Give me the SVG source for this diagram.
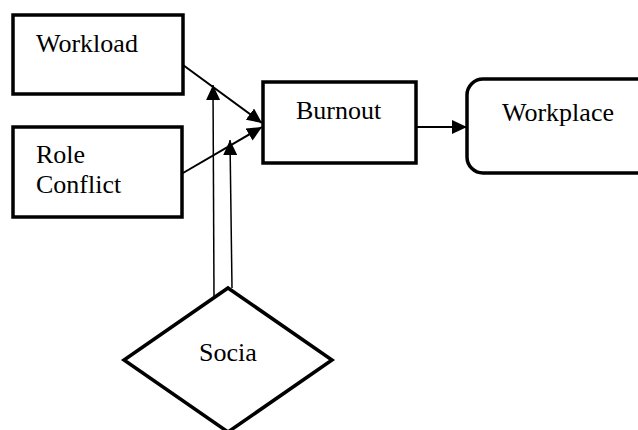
<svg xmlns="http://www.w3.org/2000/svg" width="638" height="430" viewBox="0 0 638 430">
  <style>
    .box { fill: #fff; stroke: #000; stroke-width: 3.5; }
    .lbl { font-family: "Liberation Serif", "Times New Roman", serif; font-size: 26px; fill: #000; }
    .edge { stroke: #000; stroke-width: 2; fill: none; marker-end: url(#head); }
    .thin { stroke-width: 1.5; }
  </style>
  <defs>
    <marker id="head" markerUnits="userSpaceOnUse" markerWidth="16" markerHeight="14" refX="15" refY="7" orient="auto">
      <path d="M0,0 L15,7 L0,14 Z" fill="#000"/>
    </marker>
  </defs>

  <g id="workload">
    <rect class="box" x="13" y="15" width="170" height="79"/>
    <text class="lbl" x="36" y="52">Workload</text>
  </g>

  <g id="role-conflict">
    <rect class="box" x="13" y="127" width="169" height="90"/>
    <text class="lbl" x="36" y="163">Role</text>
    <text class="lbl" x="36" y="193">Conflict</text>
  </g>

  <g id="burnout">
    <rect class="box" x="263" y="82" width="153" height="81"/>
    <text class="lbl" x="296" y="119">Burnout</text>
  </g>

  <g id="workplace">
    <rect class="box" x="467" y="79" width="190" height="94" rx="16" ry="16"/>
    <text class="lbl" x="502" y="121">Workplace</text>
  </g>

  <g id="social">
    <polygon class="box" points="228,288 332,360 228,432 124,360"/>
    <text class="lbl" x="199" y="361">Socia</text>
  </g>

  <g id="connectors">
    <line class="edge" x1="183" y1="65" x2="262" y2="123"/>
    <line class="edge" x1="183" y1="173" x2="262" y2="127"/>
    <line class="edge" x1="416" y1="127" x2="467" y2="127"/>
    <line class="edge thin" x1="214" y1="296" x2="213" y2="85"/>
    <line class="edge thin" x1="232" y1="288" x2="230" y2="140"/>
  </g>
</svg>
